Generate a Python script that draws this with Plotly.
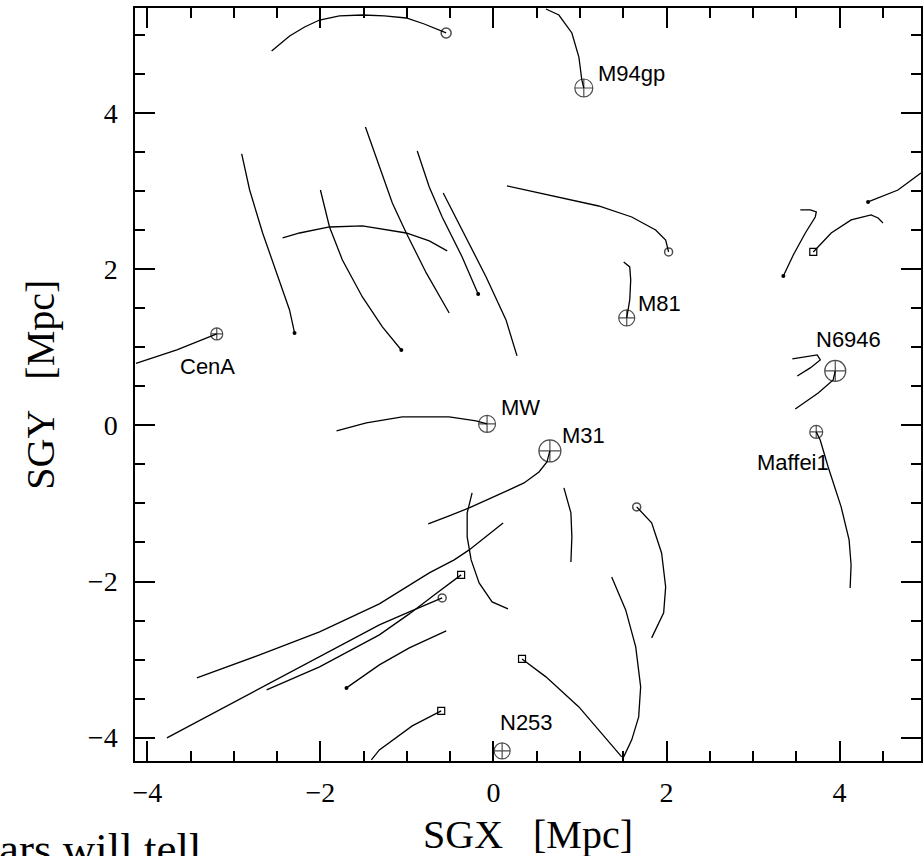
import plotly.graph_objects as go

# ---------------- data (SGX, SGY in Mpc) ----------------
# orbit tracks
track_top_x = [-2.564, -2.356, -2.183, -2.010, -1.780, -1.515, -1.261, -1.008, -0.800, -0.547]
track_top_y = [4.798, 4.990, 5.106, 5.195, 5.247, 5.259, 5.247, 5.221, 5.144, 5.029]

m94_x = [0.606, 0.756, 0.906, 0.987, 1.021, 1.044]
m94_y = [5.336, 5.259, 5.029, 4.721, 4.427, 4.324]

track_c3_x = [0.156, 0.525, 0.870, 1.216, 1.598, 1.874, 1.990, 2.024]
track_c3_y = [3.069, 2.979, 2.889, 2.812, 2.671, 2.505, 2.376, 2.223]

track_c4_x = [-2.910, -2.818, -2.668, -2.472, -2.357, -2.299]
track_c4_y = [3.479, 3.017, 2.466, 1.838, 1.480, 1.185]

arc_x = [-2.437, -2.241, -1.895, -1.515, -1.008, -0.742, -0.535]
arc_y = [2.402, 2.466, 2.543, 2.556, 2.466, 2.364, 2.236]

lineA_x = [-2.000, -1.895, -1.746, -1.515, -1.284, -1.065]
lineA_y = [3.017, 2.543, 2.120, 1.646, 1.262, 0.967]

lineB_x = [-1.480, -1.319, -1.169, -1.008, -0.777, -0.512]
lineB_y = [3.824, 3.312, 2.851, 2.466, 1.954, 1.441]

lineC_x = [-0.881, -0.742, -0.593, -0.362, -0.177]
lineC_y = [3.517, 3.056, 2.671, 2.159, 1.685]

lineD_x = [-0.581, -0.362, -0.085, 0.145, 0.272]
lineD_y = [2.979, 2.505, 1.903, 1.352, 0.891]

cena_x = [-4.132, -3.659, -3.198]
cena_y = [0.794, 0.967, 1.172]

mw_x = [-1.814, -1.469, -1.054, -0.512, -0.201, -0.074]
mw_y = [-0.070, 0.032, 0.109, 0.109, 0.058, 0.019]

m31_x = [0.652, 0.618, 0.526, 0.353, 0.180, -0.051, -0.281, -0.512, -0.754]
m31_y = [-0.327, -0.468, -0.596, -0.737, -0.826, -0.942, -1.057, -1.160, -1.262]

c10_x = [-0.247, -0.304, -0.304, -0.258, -0.166, -0.016, 0.168]
c10_y = [-0.865, -1.121, -1.428, -1.723, -2.018, -2.261, -2.351]

L1_x = [-3.428, -2.702, -2.010, -1.319, -0.742, -0.454, -0.281, 0.111]
L1_y = [-3.235, -2.941, -2.646, -2.287, -1.890, -1.723, -1.595, -1.249]

L2_x = [-3.774, -3.163, -2.587, -2.010, -1.319, -0.973, -0.593]
L2_y = [-4.004, -3.645, -3.299, -2.966, -2.556, -2.389, -2.210]

L3_x = [-2.622, -2.010, -1.319, -0.973, -0.685, -0.374]
L3_y = [-3.389, -3.094, -2.684, -2.415, -2.172, -1.915]

L4_x = [-1.699, -1.492, -1.319, -0.973, -0.546]
L4_y = [-3.363, -3.196, -3.068, -2.850, -2.632]

L5_x = [-1.411, -1.319, -0.939, -0.604]
L5_y = [-4.286, -4.158, -3.850, -3.658]

L6_x = [0.330, 0.606, 0.987, 1.482]
L6_y = [-2.992, -3.222, -3.607, -4.247]

L7_x = [1.366, 1.528, 1.644, 1.701, 1.678, 1.598, 1.505]
L7_y = [-1.941, -2.364, -2.838, -3.350, -3.735, -4.029, -4.247]

L8_x = [1.655, 1.828, 1.943, 1.990, 1.967, 1.828]
L8_y = [-1.044, -1.249, -1.634, -2.069, -2.402, -2.722]

L9_x = [0.814, 0.895, 0.906, 0.895]
L9_y = [-0.801, -1.121, -1.428, -1.749]

m81_x = [1.505, 1.575, 1.586, 1.575, 1.540]
m81_y = [2.095, 2.031, 1.864, 1.608, 1.377]

rtop_x = [4.329, 4.675, 4.940]
rtop_y = [2.864, 3.017, 3.235]

rsq_x = [3.696, 3.903, 4.134, 4.364, 4.445, 4.502]
rsq_y = [2.223, 2.466, 2.633, 2.697, 2.658, 2.594]

hook1_x = [3.350, 3.465, 3.604, 3.719, 3.731, 3.662, 3.546]
hook1_y = [1.915, 2.184, 2.466, 2.671, 2.735, 2.761, 2.761]

hook2_x = [3.454, 3.592, 3.742, 3.777, 3.661, 3.511]
hook2_y = [0.852, 0.878, 0.903, 0.839, 0.737, 0.634]

n6946_x = [3.950, 3.926, 3.753, 3.488]
n6946_y = [0.698, 0.583, 0.416, 0.211]

maffei_x = [3.730, 3.776, 3.868, 4.018, 4.110, 4.133, 4.122]
maffei_y = [-0.083, -0.186, -0.532, -1.044, -1.467, -1.787, -2.082]

tracks = [
    (track_top_x, track_top_y), (m94_x, m94_y), (track_c3_x, track_c3_y),
    (track_c4_x, track_c4_y), (arc_x, arc_y), (lineA_x, lineA_y),
    (lineB_x, lineB_y), (lineC_x, lineC_y), (lineD_x, lineD_y),
    (cena_x, cena_y), (mw_x, mw_y), (m31_x, m31_y), (c10_x, c10_y),
    (L1_x, L1_y), (L2_x, L2_y), (L3_x, L3_y), (L4_x, L4_y), (L5_x, L5_y),
    (L6_x, L6_y), (L7_x, L7_y), (L8_x, L8_y), (L9_x, L9_y),
    (m81_x, m81_y), (rtop_x, rtop_y), (rsq_x, rsq_y), (hook1_x, hook1_y),
    (hook2_x, hook2_y), (n6946_x, n6946_y), (maffei_x, maffei_y),
]

# named galaxies (big circles)
gal_names = ["M94gp", "M31", "N6946", "MW", "M81", "N253", "CenA", "Maffei1"]
gal_x = [1.044, 0.652, 3.950, -0.074, 1.540, 0.100, -3.198, 3.730]
gal_y = [4.324, -0.327, 0.698, 0.019, 1.377, -4.171, 1.172, -0.083]
gal_size = [18, 22, 21, 17, 16, 16, 12, 13]

# label positions
lab_x = [1.598, 1.044, 4.099, 0.307, 1.919, 0.387, -3.303, 3.465]
lab_y = [4.516, -0.135, 1.095, 0.224, 1.557, -3.812, 0.750, -0.480]

# small circles
sc_x = [-0.547, 2.024, -0.593, 1.655]
sc_y = [5.029, 2.223, -2.210, -1.044]
sc_size = [10, 8, 8, 8]

# dots
dot_x = [-2.299, -1.065, -0.177, 4.329, 3.350, -1.699]
dot_y = [1.185, 0.967, 1.685, 2.864, 1.915, -3.363]

# squares
sq_x = [-0.374, -0.604, 0.330, 3.696]
sq_y = [-1.915, -3.658, -2.992, 2.223]

fig = go.Figure()
for tx, ty in tracks:
    fig.add_trace(go.Scatter(x=tx, y=ty, mode="lines",
                             line=dict(color="black", width=1.3),
                             showlegend=False, hoverinfo="skip"))

fig.add_trace(go.Scatter(x=gal_x, y=gal_y, mode="markers", showlegend=False,
                         marker=dict(symbol="circle-cross-open", size=gal_size,
                                     color="black", line=dict(width=1.2, color="black"))))
fig.add_trace(go.Scatter(x=sc_x, y=sc_y, mode="markers", showlegend=False,
                         marker=dict(symbol="circle-open", size=sc_size,
                                     color="black", line=dict(width=1.5, color="black"))))
fig.add_trace(go.Scatter(x=dot_x, y=dot_y, mode="markers", showlegend=False,
                         marker=dict(symbol="circle", size=4, color="black")))
fig.add_trace(go.Scatter(x=sq_x, y=sq_y, mode="markers", showlegend=False,
                         marker=dict(symbol="square-open", size=7,
                                     color="black", line=dict(width=1.2, color="black"))))

annotations = []
for name, lx, ly in zip(gal_names, lab_x, lab_y):
    annotations.append(dict(x=lx, y=ly, xref="x", yref="y", text=name,
                            showarrow=False, xanchor="center", yanchor="middle",
                            font=dict(family="Liberation Sans", size=22, color="black")))

serif = "Liberation Serif"
annotations.append(dict(x=0.5, y=-0.097, xref="paper", yref="paper",
                        text="SGX\u00a0\u00a0\u00a0[Mpc]", showarrow=False,
                        xanchor="center", yanchor="middle",
                        font=dict(family=serif, size=40, color="black")))
annotations.append(dict(x=-0.1206, y=0.5, xref="paper", yref="paper",
                        text="SGY\u00a0\u00a0\u00a0[Mpc]", showarrow=False, textangle=-90,
                        xanchor="center", yanchor="middle",
                        font=dict(family=serif, size=40, color="black")))
annotations.append(dict(x=0.0863, y=-0.0807, xref="paper", yref="paper",
                        text="ars will tell", showarrow=False,
                        xanchor="right", yanchor="top",
                        font=dict(family=serif, size=45, color="black")))

axis_common = dict(
    showline=True, linecolor="black", linewidth=1.5, mirror="allticks",
    ticks="inside", ticklen=20, tickwidth=1.5, tickcolor="black",
    dtick=2, tick0=0, showgrid=False, zeroline=False,
    tickfont=dict(family=serif, size=28, color="black"),
    minor=dict(ticks="inside", ticklen=10, tickwidth=1.5, tickcolor="black",
               dtick=0.5, showgrid=False),
)

fig.update_layout(
    width=924, height=856,
    font=dict(family=serif, color="black"),
    margin=dict(l=135, r=1, t=8, b=95),
    paper_bgcolor="white", plot_bgcolor="white",
    xaxis=dict(range=[-4.143, 4.941], ticklabelstandoff=6, **axis_common),
    yaxis=dict(range=[-4.300, 5.349], ticklabelstandoff=10, **axis_common),
    annotations=annotations,
)

fig.write_html("out.html",
               config={"displayModeBar": False},
               post_script="document.body.style.margin='0';document.body.style.overflow='hidden';")
